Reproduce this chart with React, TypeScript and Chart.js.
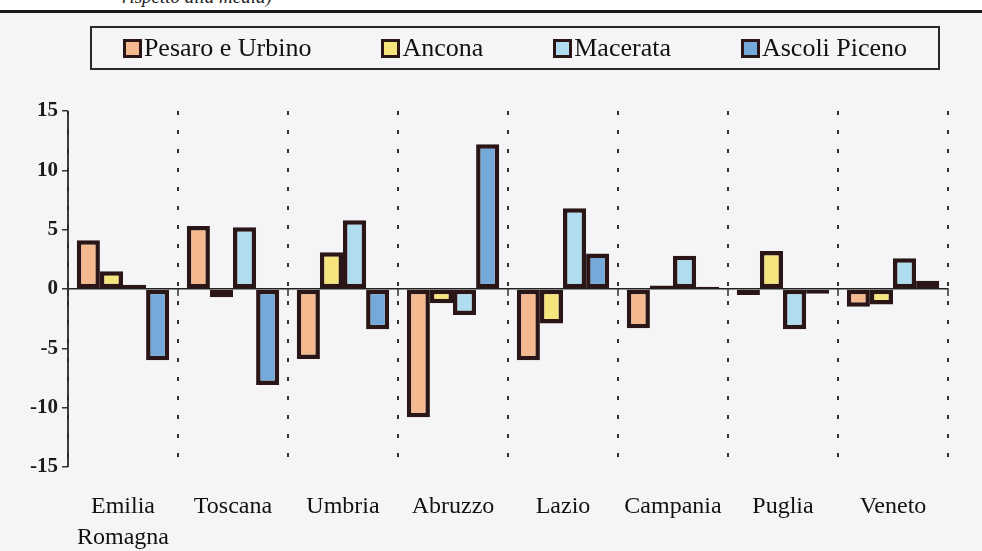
import React, { useEffect, useRef } from "react";
import { Chart, registerables } from "chart.js";

Chart.register(...registerables);

const categories: (string | string[])[] = [
  ["Emilia", "Romagna"],
  "Toscana",
  "Umbria",
  "Abruzzo",
  "Lazio",
  "Campania",
  "Puglia",
  "Veneto",
];

const seriesNames = ["Pesaro e Urbino", "Ancona", "Macerata", "Ascoli Piceno"];
const seriesColors = ["#f4b98e", "#f6e47c", "#b0dcef", "#74a9da"];

const pesaroUrbino = [4.1, 5.3, -5.9, -10.8, -6.0, -3.3, -0.5, -1.5];
const ancona = [1.5, -0.7, 3.1, -1.2, -2.9, 0.3, 3.2, -1.3];
const macerata = [0.35, 5.2, 5.8, -2.2, 6.8, 2.8, -3.4, 2.6];
const ascoliPiceno = [-6.0, -8.1, -3.4, 12.2, 3.0, 0.2, -0.4, 0.7];

const yTicks = [-15, -10, -5, 0, 5, 10, 15];

const FONT = "'Liberation Serif', 'DejaVu Serif', serif";

const axisLinesPlugin = {
  id: "axisLines",
  afterDatasetsDraw(chart: any) {
    const x = chart.scales.x;
    const y = chart.scales.y;
    const ctx = chart.ctx;
    const y0 = y.getPixelForValue(0);
    const n = categories.length;
    ctx.save();
    ctx.strokeStyle = "#333";
    ctx.lineWidth = 1.5;
    ctx.beginPath();
    for (let i = 0; i <= n; i++) {
      const px = x.left + (i * x.width) / n;
      ctx.moveTo(px, y0 - 1);
      ctx.lineTo(px, y0 + 7);
    }
    ctx.stroke();
    ctx.beginPath();
    ctx.strokeStyle = "#2a2a2a";
    ctx.lineWidth = 1.8;
    ctx.moveTo(x.left, y.top);
    ctx.lineTo(x.left, y.bottom);
    ctx.stroke();
    ctx.restore();
  },
};

export default function App() {
  const canvasRef = useRef<HTMLCanvasElement>(null);

  useEffect(() => {
    const seriesData = [pesaroUrbino, ancona, macerata, ascoliPiceno];
    const chart = new Chart(canvasRef.current!, {
      type: "bar",
      data: {
        labels: categories,
        datasets: seriesNames.map((name, i) => ({
          label: name,
          data: seriesData[i],
          backgroundColor: seriesColors[i],
          borderColor: "#2a1616",
          borderWidth: 4.5,
          borderSkipped: false,
          categoryPercentage: 0.84,
          barPercentage: 1,
        })),
      },
      options: {
        animation: false,
        responsive: false,
        maintainAspectRatio: false,
        layout: { padding: { top: 111, right: 34, bottom: 0, left: 0 } },
        plugins: {
          legend: { display: false },
          tooltip: { enabled: false },
        },
        scales: {
          x: {
            afterFit: (s: any) => {
              s.height = 84;
            },
            border: { display: false, dash: [4, 15] },
            grid: {
              offset: true,
              color: "#333",
              lineWidth: 2,
              drawTicks: false,
            },
            ticks: {
              color: "#111",
              padding: 24,
              font: { family: FONT, size: 24, lineHeight: 1.3 },
              maxRotation: 0,
              autoSkip: false,
            },
          },
          y: {
            min: -15,
            max: 15,
            afterFit: (s: any) => {
              s.width = 68;
            },
            afterBuildTicks: (s: any) => {
              s.ticks = yTicks.map((v) => ({ value: v }));
            },
            border: { display: false },
            grid: {
              color: (c: any) => (c.tick && c.tick.value === 0 ? "#222" : "transparent"),
              lineWidth: 1.5,
              tickColor: "#333",
              tickLength: 6,
            },
            ticks: {
              color: "#1a1a1a",
              padding: 4,
              font: { family: FONT, size: 21, weight: "bold" },
            },
          },
        },
      },
      plugins: [axisLinesPlugin],
    });
    return () => chart.destroy();
  }, []);

  return (
    <div
      style={{
        position: "fixed",
        left: 0,
        top: 0,
        width: 982,
        height: 551,
        background: "#f5f5f7",
        overflow: "hidden",
        fontFamily: FONT,
      }}
    >
      <div
        style={{
          position: "absolute",
          left: 0,
          top: 0,
          width: 982,
          height: 10,
          background: "#fff",
          overflow: "hidden",
        }}
      >
        <div
          style={{
            position: "absolute",
            left: 122,
            top: -14,
            fontStyle: "italic",
            fontSize: 19,
            color: "#222",
            whiteSpace: "nowrap",
          }}
        >
          rispetto alla media)
        </div>
      </div>
      <div
        style={{
          position: "absolute",
          left: 0,
          top: 10,
          width: 982,
          height: 3,
          background: "#1a1a1a",
        }}
      />
      <canvas
        ref={canvasRef}
        width={982}
        height={551}
        style={{ position: "absolute", left: 0, top: 0, width: 982, height: 551 }}
      />
      <div
        style={{
          position: "absolute",
          left: 90,
          top: 26,
          width: 846,
          height: 40,
          border: "2px solid #2a2a2a",
          display: "flex",
          alignItems: "center",
          justifyContent: "center",
          gap: 70,
        }}
      >
        {seriesNames.map((name, i) => (
          <div key={name} style={{ display: "flex", alignItems: "center" }}>
            <span
              style={{
                display: "inline-block",
                width: 13,
                height: 13,
                background: seriesColors[i],
                border: "3px solid #2a1616",
                marginRight: 2,
              }}
            />
            <span style={{ fontSize: 26, color: "#111", lineHeight: "28px" }}>{name}</span>
          </div>
        ))}
      </div>
    </div>
  );
}
